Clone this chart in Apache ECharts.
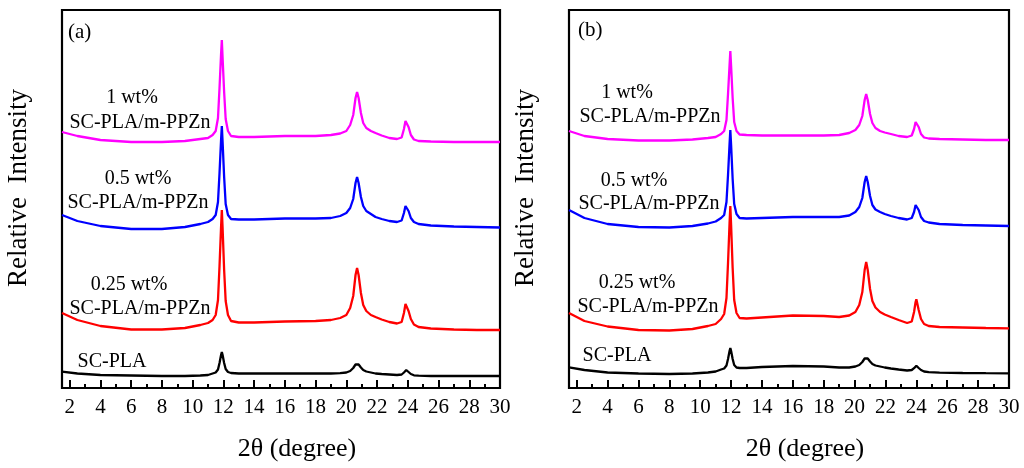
<!DOCTYPE html>
<html>
<head>
<meta charset="utf-8">
<script src="https://cdn.jsdelivr.net/npm/echarts@6/dist/echarts.min.js"></script>
<style>
  html, body { margin: 0; padding: 0; background: #fff; }
  #chart { width: 1024px; height: 468px; }
</style>
</head>
<body>
<div id="chart"></div>
<script>
// 2θ positions (degree) for panel (a) and (b)
var xA = [1.5, 2.5, 4, 6, 8, 9.5, 10.5, 11.0, 11.3, 11.5, 11.65, 11.75, 11.85, 11.9, 11.95, 12.05, 12.15, 12.3, 12.5,
  13, 14, 16, 18, 19, 19.6, 20.0, 20.25, 20.45, 20.6, 20.7, 20.8, 20.95, 21.1, 21.3, 21.6, 21.9, 22.3, 22.8, 23.3, 23.6,
  23.75, 23.85, 23.9, 23.95, 24.05, 24.2, 24.4, 24.7, 25.5, 27, 28.5, 30];
var xB = [1.5, 2.5, 4, 6, 8, 9.5, 10.5, 11.0, 11.35, 11.55, 11.7, 11.8, 11.9, 11.95, 12.0, 12.1, 12.2, 12.35, 12.55,
  13, 14, 16, 18, 19, 19.65, 20.05, 20.3, 20.5, 20.65, 20.75, 20.85, 21.0, 21.15, 21.35, 21.65, 21.95, 22.35, 22.85, 23.4, 23.7,
  23.85, 23.95, 24.0, 24.05, 24.15, 24.3, 24.5, 24.8, 25.5, 27, 28.5, 30];

// panel (a) intensities (stacked offsets, arbitrary units)
var wt1A = [256, 252, 248, 246, 246, 247, 249, 250, 253, 257, 270, 300, 334, 348, 330, 296, 269, 257, 252,
  251, 251, 252, 252, 253, 254.5, 257, 263, 273, 290, 296, 290, 275, 265, 260, 257, 255, 252.5, 250, 249, 250.5,
  259, 267, 269, 268, 261, 253, 248.5, 247, 246.5, 246, 246, 246];
var wt05A = [173, 167, 162, 159, 159, 161, 164, 166, 169, 173, 186, 215, 248, 262, 246, 211, 184, 173, 169,
  168.5, 168.5, 169.5, 169.5, 170, 172, 175, 180, 189, 205, 211, 205, 191, 182, 177, 174, 171, 169, 167, 166, 167.5,
  175, 182, 184, 183, 177, 170, 166, 164, 162.5, 161.5, 161, 160.5];
var wt025A = [75, 68, 62, 58.5, 58.5, 60, 63, 65, 68, 73, 88, 122, 161, 178, 160, 118, 87, 73, 67,
  65.5, 65.5, 66.5, 67, 68, 70, 73, 80, 92, 113, 120, 113, 95, 83, 77, 73, 71, 68.5, 66, 64.5, 66,
  75, 84, 86, 85, 77, 69, 63.5, 61, 59.5, 58.5, 58, 58];
var scA = [16.3, 14.5, 13, 12.5, 12, 12, 12.5, 13, 14.5, 15.5, 18.5, 25, 33, 36, 33, 25, 19, 16, 15,
  14.5, 14.5, 14.5, 14.5, 14.5, 14.8, 15.5, 17, 20, 23.5, 24.7, 23.5, 20.5, 18, 16.5, 15.5, 14.5, 14, 13.5, 13, 13.5,
  15.5, 17.2, 18, 17.6, 16, 14, 12.7, 12.3, 12, 12, 12, 12];

// panel (b) intensities
var wt1B = [257, 252, 249, 247.5, 247.5, 248.5, 250, 251, 254, 257, 268, 294, 323, 337, 322, 290, 266, 257, 253.5,
  253, 252.5, 252.5, 252.5, 253, 255, 258, 263, 272, 288, 294, 288, 274, 265, 260, 257, 255.5, 254, 252, 251, 252.5,
  259, 266, 268, 267, 261, 254, 250.5, 249.5, 249, 248.5, 248, 248];
var wt05B = [178, 170, 164, 161, 160.5, 162, 164.5, 166.5, 170, 173, 186, 213, 244, 258, 243, 209, 184, 174, 170,
  169.5, 170, 171, 171, 171, 172.5, 176, 181, 190, 206, 212, 206, 192, 183, 178.5, 176, 174, 172, 170, 168.5, 170,
  176, 183, 185, 184, 178, 171, 167, 165.5, 164, 163, 162.5, 162];
var wt025B = [75, 67, 61.5, 58, 57.5, 59, 62, 64, 69, 74, 90, 125, 165, 182, 163, 120, 88, 75, 70,
  69.5, 70.5, 72.5, 72, 71, 72.5, 76, 83, 96, 118, 126, 118, 99, 87, 80.5, 76, 73.5, 71, 68, 65, 66.5,
  76, 86, 88.7, 87, 78, 69, 64, 62, 61, 60.5, 60, 59.7];
var scB = [20.7, 18, 15.5, 14.5, 14, 14.5, 15.5, 16.5, 18.5, 19.5, 22.5, 29, 37, 40, 37, 29, 23, 20.5, 20,
  20, 21, 22, 21.5, 20.5, 20.5, 21.5, 23, 26, 29.5, 30.7, 29.5, 26.5, 24, 22.5, 21.5, 20.5, 19.5, 18.5, 17.5, 18,
  19.8, 21.5, 22.3, 22, 20, 18, 16.5, 15.8, 15.3, 15, 14.8, 14.7];

// tick values
var majorTicks = [2, 4, 6, 8, 10, 12, 14, 16, 18, 20, 22, 24, 26, 28, 30];
var minorTicks = [3, 5, 7, 9, 11, 13, 15, 17, 19, 21, 23, 25, 27, 29];

var FONT = 'Liberation Serif';
var colors = ['#ff00ff', '#0000ff', '#ff0000', '#000000'];

function pairs(xs, ys) {
  return xs.map(function (x, i) { return [x, ys[i]]; });
}

function mainX(gridIndex) {
  return {
    type: 'value', gridIndex: gridIndex, position: 'bottom', min: 1.5, max: 30,
    name: '2θ (degree)', nameLocation: 'middle', nameGap: 48,
    nameTextStyle: { fontFamily: FONT, fontSize: 26, color: '#000', padding: [0, 0, 0, 32] },
    axisLine: { show: false },
    axisTick: { inside: true, length: 8, customValues: majorTicks, lineStyle: { color: '#000', width: 2 } },
    axisLabel: { customValues: majorTicks, margin: 9, fontFamily: FONT, fontSize: 21, color: '#000' },
    splitLine: { show: false }
  };
}

function minorX(gridIndex) {
  return {
    type: 'value', gridIndex: gridIndex, position: 'bottom', min: 1.5, max: 30,
    axisLine: { show: false },
    axisTick: { inside: true, length: 4, customValues: minorTicks, lineStyle: { color: '#000', width: 2 } },
    axisLabel: { show: false },
    splitLine: { show: false }
  };
}

function yAx(gridIndex) {
  return {
    type: 'value', gridIndex: gridIndex, min: 0, max: 378,
    name: 'Relative  Intensity', nameLocation: 'middle', nameGap: 30,
    nameTextStyle: { fontFamily: FONT, fontSize: 27, color: '#000', padding: [0, 0, 0, 22] },
    axisLine: { show: false }, axisTick: { show: false }, axisLabel: { show: false },
    splitLine: { show: false }
  };
}

function lineSeries(xIdx, yIdx, xs, ys, color) {
  return {
    type: 'line', xAxisIndex: xIdx, yAxisIndex: yIdx, data: pairs(xs, ys),
    showSymbol: false, silent: true, animation: false,
    lineStyle: { color: color, width: 2.3 }
  };
}

function label(text, x, y) {
  return {
    type: 'text', x: x, y: y,
    style: { text: text, fontFamily: FONT, fontSize: 20, fill: '#000', align: 'center', verticalAlign: 'middle' }
  };
}

var myChart = echarts.init(document.getElementById('chart'));
var option = {
  backgroundColor: '#fff',
  animation: false,
  grid: [
    { left: 62, top: 10, width: 438, height: 378, show: true, borderColor: '#000', borderWidth: 2.2 },
    { left: 569, top: 10, width: 440, height: 378, show: true, borderColor: '#000', borderWidth: 2.2 }
  ],
  xAxis: [mainX(0), minorX(0), mainX(1), minorX(1)],
  yAxis: [yAx(0), yAx(1)],
  series: [
    lineSeries(0, 0, xA, wt1A, colors[0]),
    lineSeries(0, 0, xA, wt05A, colors[1]),
    lineSeries(0, 0, xA, wt025A, colors[2]),
    lineSeries(0, 0, xA, scA, colors[3]),
    lineSeries(2, 1, xB, wt1B, colors[0]),
    lineSeries(2, 1, xB, wt05B, colors[1]),
    lineSeries(2, 1, xB, wt025B, colors[2]),
    lineSeries(2, 1, xB, scB, colors[3])
  ],
  graphic: [
    { type: 'text', x: 68, y: 32, style: { text: '(a)', fontFamily: FONT, fontSize: 21, fill: '#000', verticalAlign: 'middle' } },
    { type: 'text', x: 578, y: 30, style: { text: '(b)', fontFamily: FONT, fontSize: 21, fill: '#000', verticalAlign: 'middle' } },
    label('1 wt%', 132, 98),
    label('SC-PLA/m-PPZn', 140, 123),
    label('0.5 wt%', 138, 179),
    label('SC-PLA/m-PPZn', 138, 203),
    label('0.25 wt%', 129, 285),
    label('SC-PLA/m-PPZn', 140, 309),
    label('SC-PLA', 112, 362),
    label('1 wt%', 627, 93),
    label('SC-PLA/m-PPZn', 650, 117),
    label('0.5 wt%', 634, 181),
    label('SC-PLA/m-PPZn', 649, 204),
    label('0.25 wt%', 637, 283),
    label('SC-PLA/m-PPZn', 648, 307),
    label('SC-PLA', 617, 356)
  ]
};
myChart.setOption(option);
</script>
</body>
</html>
